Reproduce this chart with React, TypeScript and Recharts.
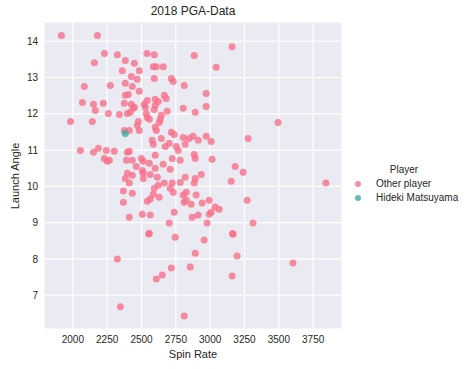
import { ScatterChart, Scatter, XAxis, YAxis, CartesianGrid } from "recharts";

const FONT = '"Liberation Sans", Arial, sans-serif';
const TEXT = "#262626";
const PINK = "#f77189";
const TEAL = "#36ada4";

const xTicks = [2000, 2250, 2500, 2750, 3000, 3250, 3500, 3750];
const yTicks = [7, 8, 9, 10, 11, 12, 13, 14];

// other players: spin rate / launch angle
const otherSpin = [
  1917, 2179, 2230, 2324, 2540, 2593, 2884, 2157, 2382, 2448, 2586, 2608, 2658, 2360, 2484, 2593,
  2426, 2469, 2717, 2731, 2084, 2273, 2382, 2433, 2811, 2484, 2382, 2404, 2070, 2150, 2222, 2375,
  2426, 2448, 2520, 2528, 2542, 2600, 2622, 2666, 2680, 2600, 2593, 2687, 2804, 2891, 2164, 2259,
  2339, 2397, 2419, 2440, 2535, 2542, 2557, 2644, 2637, 2629, 1983, 2142, 2477, 2469, 2484, 2600,
  2608, 2375, 2411, 2717, 2738, 2804, 2876, 2913, 2578, 2644, 2586, 2673, 2702, 2753, 2818, 2767,
  2055, 2186, 2150, 2244, 2302, 2397, 2411, 2230, 2251, 2266, 2390, 2433, 2499, 2513, 2557, 2462,
  2506, 2600, 2600, 2658, 2724, 2782, 2884, 2891, 2709, 2397, 2433, 2513, 2564, 2615, 2818, 2891,
  2382, 3160, 3044, 2971, 2971, 3494, 2847, 2971, 3007, 3276, 3014, 3182, 3240, 2935, 3153, 2411,
  2513, 2622, 2666, 2593, 2709, 2731, 2724, 2782, 2884, 2368, 2433, 2368, 2586, 2564, 2542, 2629,
  2804, 2826, 2898, 2811, 2826, 2862, 2942, 2411, 2506, 2564, 2738, 2702, 2869, 2913, 2557, 2552,
  2746, 2891, 2324, 2717, 2855, 2651, 2608, 2346, 2811, 3843, 2993, 3036, 3065, 3007, 2993, 3269,
  2978, 3312, 3167, 3163, 2956, 3196, 3603, 3160,
];
const otherAngle = [
  14.16, 14.16, 13.66, 13.63, 13.66, 13.63, 13.61, 13.41, 13.47, 13.39, 13.3, 13.3, 13.3, 13.19, 13.19, 12.97,
  13.03, 12.95, 12.97, 12.89, 12.75, 12.78, 12.84, 12.75, 12.78, 12.62, 12.51, 12.53, 12.31, 12.26, 12.29, 12.29,
  12.26, 12.18, 12.26, 12.18, 12.37, 12.4, 12.34, 12.51, 12.42, 12.23, 12.12, 12.07, 12.15, 12.04, 12.09, 12.01,
  11.98, 12.01, 12.04, 12.15, 12.01, 11.9, 11.85, 11.96, 11.85, 11.76, 11.79, 11.79, 11.79, 11.68, 11.54, 11.63,
  11.54, 11.54, 11.54, 11.49, 11.43, 11.35, 11.38, 11.27, 11.27, 11.32, 11.16, 11.1, 11.19, 11.1, 11.16, 10.99,
  10.99, 11.05, 10.94, 10.99, 10.97, 10.94, 10.97, 10.77, 10.69, 10.72, 10.72, 10.72, 10.77, 10.69, 10.64, 10.55,
  10.44, 10.86, 10.5, 10.61, 10.77, 10.72, 10.88, 10.77, 10.47, 10.36, 10.31, 10.36, 10.33, 10.25, 10.25, 10.22,
  10.22, 13.85, 13.28, 12.56, 12.2, 11.76, 11.32, 11.38, 11.24, 11.32, 10.75, 10.55, 10.39, 10.33, 10.14, 10.09,
  10.22, 10.03, 10.09, 9.95, 9.95, 9.84, 10.09, 10.11, 10.09, 9.87, 9.81, 9.56, 9.78, 9.65, 9.59, 9.7,
  9.76, 9.84, 9.76, 9.56, 9.62, 9.51, 9.54, 9.15, 9.23, 9.21, 9.29, 8.99, 9.15, 9.21, 8.71, 8.69,
  8.6, 8.16, 8.0, 7.75, 7.78, 7.56, 7.45, 6.68, 6.43, 10.09, 9.62, 9.43, 9.37, 9.29, 9.23, 9.62,
  8.99, 8.99, 8.68, 8.7, 8.52, 8.08, 7.89, 7.53,
];

const hidekiSpin = [2382];
const hidekiAngle = [11.46];

const otherData = otherSpin.map((s, i) => ({ spin: s, angle: otherAngle[i] }));
const hidekiData = hidekiSpin.map((s, i) => ({ spin: s, angle: hidekiAngle[i] }));

const dot = (color: string) => (p: any) =>
  <circle cx={p.cx} cy={p.cy} r={3.5} fill={color} fillOpacity={0.8} />;

export default function App() {
  const tick = { fill: TEXT, fontSize: 10, fontFamily: FONT };
  return (
    <div style={{ position: "absolute", left: 0, top: 0, width: 476, height: 369, fontFamily: FONT, color: TEXT, background: "#fff" }}>
      <ScatterChart width={476} height={369} margin={{ top: 22, right: 134, bottom: 0, left: 0 }}>
        <CartesianGrid fill="#eaeaf2" fillOpacity={1} stroke="#ffffff" strokeWidth={1.2} />
        <XAxis
          type="number"
          dataKey="spin"
          domain={[1790, 3960]}
          ticks={xTicks}
          interval={0}
          allowDataOverflow
          axisLine={false}
          tickLine={false}
          tickSize={5}
          tickMargin={2}
          height={40}
          tick={tick}
        />
        <YAxis
          type="number"
          dataKey="angle"
          domain={[6.07, 14.53]}
          ticks={yTicks}
          interval={0}
          allowDataOverflow
          axisLine={false}
          tickLine={false}
          tickSize={4}
          tickMargin={2}
          width={44}
          tick={tick}
        />
        <Scatter data={otherData} shape={dot(PINK)} isAnimationActive={false} />
        <Scatter data={hidekiData} shape={dot(TEAL)} isAnimationActive={false} />
      </ScatterChart>

      <div style={{ position: "absolute", left: 44, width: 298, top: 4, textAlign: "center", fontSize: 12 }}>
        2018 PGA-Data
      </div>
      <div style={{ position: "absolute", left: 44, width: 298, top: 348, textAlign: "center", fontSize: 11 }}>
        Spin Rate
      </div>
      <div
        style={{
          position: "absolute",
          left: 15,
          top: 175.5,
          fontSize: 11,
          whiteSpace: "nowrap",
          transform: "translate(-50%, -50%) rotate(-90deg)",
        }}
      >
        Launch Angle
      </div>

      <div style={{ position: "absolute", left: 354, top: 163, fontSize: 10, lineHeight: "14px" }}>
        <div style={{ textAlign: "center", width: 100 }}>Player</div>
        {[
          { name: "Other player", color: PINK },
          { name: "Hideki Matsuyama", color: TEAL },
        ].map((it) => (
          <div key={it.name} style={{ display: "flex", alignItems: "center", height: 14 }}>
            <svg width={22} height={14}>
              <circle cx={4} cy={7} r={3} fill={it.color} fillOpacity={0.8} />
            </svg>
            <span>{it.name}</span>
          </div>
        ))}
      </div>
    </div>
  );
}
